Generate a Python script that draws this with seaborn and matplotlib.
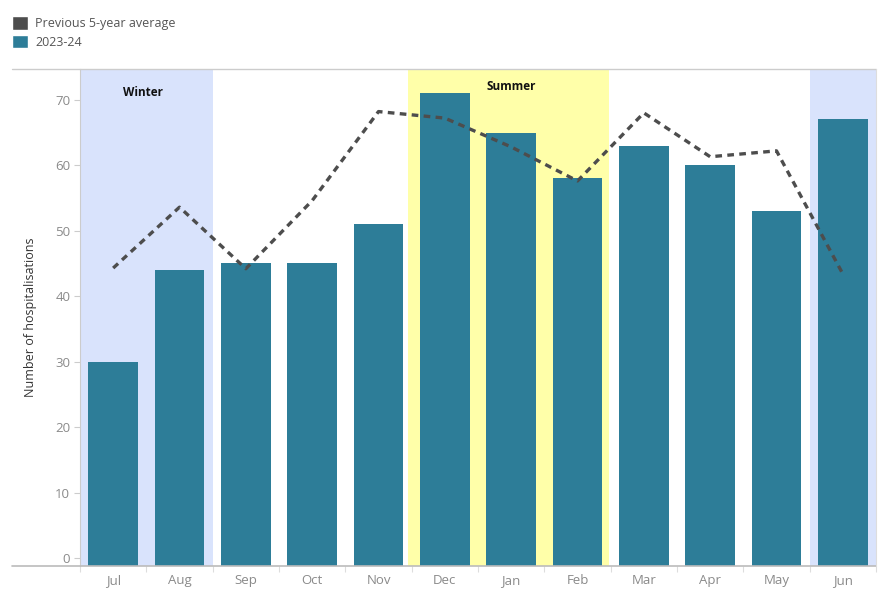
import matplotlib
matplotlib.use("Agg")
import matplotlib.pyplot as plt
from matplotlib.patches import Patch
from matplotlib.lines import Line2D
import numpy as np
import pandas as pd
import seaborn as sns

months = ["Jul", "Aug", "Sep", "Oct", "Nov", "Dec", "Jan", "Feb", "Mar", "Apr", "May", "Jun"]
current = [30, 44, 45, 45, 51, 71, 65, 58, 63, 60, 53, 67]
prev_avg = [44.3, 53.6, 44.2, 54.6, 68.2, 67.2, 62.8, 57.6, 68.0, 61.3, 62.2, 43.4]

sns.set_theme(style="white")
plt.rcParams["font.family"] = ["Open Sans", "DejaVu Sans"]

bar_color = "#2d7d98"
line_color = "#4d4d4d"
winter_color = "#d9e3fc"
summer_color = "#ffffa9"
tick_color = "#8a8a8a"
y_min = -1.2

df = pd.DataFrame({"month": months, "current": current, "prev": prev_avg, "pos": np.arange(len(months))})

fig = plt.figure(figsize=(8.9, 6.0), dpi=100)
ax = fig.add_axes([80 / 890, 1 - 566 / 600, 796 / 890, 497 / 600])

# season shading
ax.axvspan(-0.5, 1.5, color=winter_color, zorder=0, lw=0)
ax.axvspan(10.5, 11.5, color=winter_color, zorder=0, lw=0)
ax.axvspan(4.45, 7.48, color=summer_color, zorder=0, lw=0)

sns.barplot(data=df, x="month", y="current", order=months, color=bar_color,
            saturation=1, width=0.75, linewidth=0, edgecolor="none", ax=ax, zorder=2)
# bars run down to the baseline of the frame, as in the original
for p in ax.patches:
    p.set_height(p.get_height() - y_min)
    p.set_y(y_min)

sns.lineplot(data=df, x="pos", y="prev", color=line_color, linestyle=(0, (2, 1.6)),
             linewidth=2.4, ax=ax, zorder=3)

ax.set_xlim(-0.5, 11.5)
ax.set_ylim(y_min, 74.7)
ax.set_yticks(range(0, 71, 10))
ax.set_xlabel("")
ax.set_ylabel("Number of hospitalisations", fontsize=9, color="#333333")
ax.yaxis.set_label_coords(-0.054, 0.5)

ax.tick_params(axis="y", colors="#cccccc", labelcolor=tick_color, labelsize=9.5,
               length=4, width=0.8, left=True, pad=3)
ax.tick_params(axis="x", bottom=False, labelcolor=tick_color, labelsize=9.5, pad=0)
ax.set_xticks(np.arange(-0.5, 11.6, 1.0), minor=True)
ax.tick_params(axis="x", which="minor", bottom=True, length=4, width=0.8, colors="#dddddd")

for s in ["top", "right"]:
    ax.spines[s].set_visible(False)
ax.spines["left"].set_color("#cccccc")
ax.spines["left"].set_linewidth(0.8)
ax.spines["bottom"].set_visible(False)

# frame lines extending to the left like the original
fig.add_artist(Line2D([12 / 890, 876 / 890], [1 - 69 / 600] * 2, color="#cccccc", lw=1.0))
fig.add_artist(Line2D([12 / 890, 876 / 890], [1 - 566 / 600] * 2, color="#bbbbbb", lw=1.2))
fig.add_artist(Line2D([876 / 890] * 2, [1 - 69 / 600, 1 - 566 / 600], color="#dddddd", lw=0.8))

ax.text(0.45, 71.1, "Winter", fontsize=8.5, fontweight="bold", ha="center", va="center", color="#111111")
ax.text(6.0, 72.0, "Summer", fontsize=8.5, fontweight="bold", ha="center", va="center", color="#111111")

handles = [Patch(facecolor=line_color, label="Previous 5-year average"),
           Patch(facecolor=bar_color, label="2023-24")]
leg = fig.legend(handles=handles, loc="upper left", bbox_to_anchor=(0.013, 0.973), frameon=False,
                 fontsize=9, handlelength=1.3, handleheight=1.3, handletextpad=0.6,
                 labelspacing=0.35, borderaxespad=0, borderpad=0)
for t in leg.get_texts():
    t.set_color("#555555")

fig.savefig("out.png", dpi=100)
